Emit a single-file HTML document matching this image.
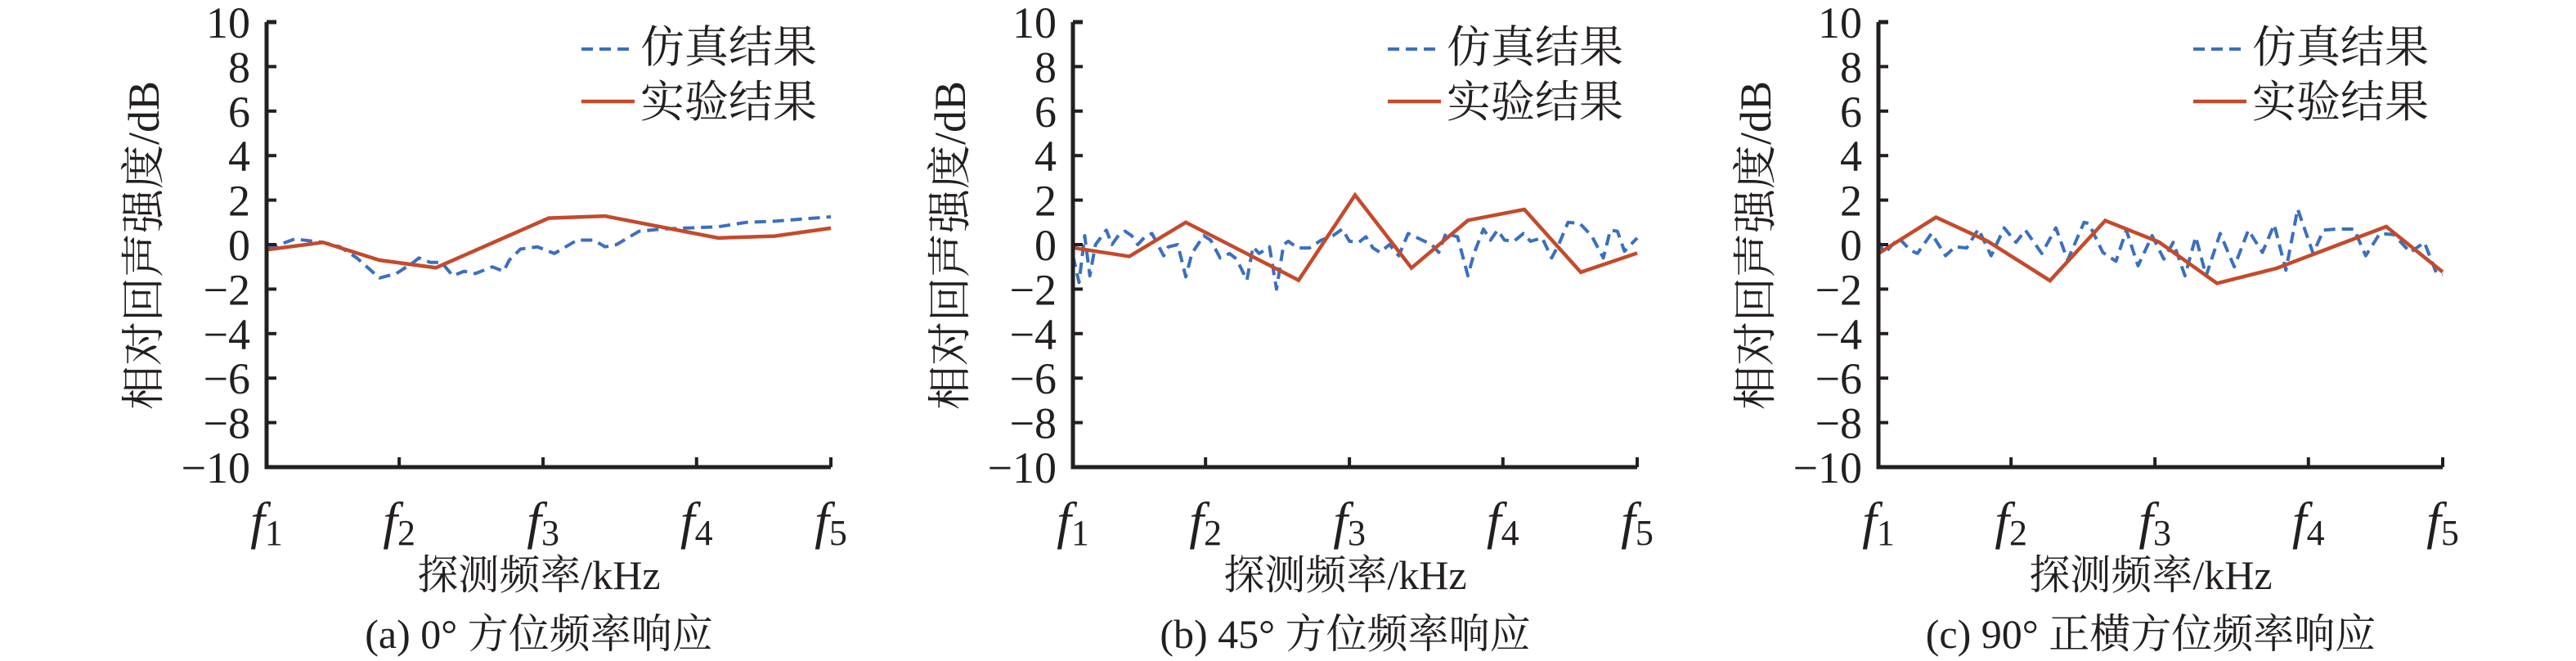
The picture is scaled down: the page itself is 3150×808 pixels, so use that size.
<!DOCTYPE html>
<html><head><meta charset="utf-8">
<style>
html,body{margin:0;padding:0;background:#fff;}
svg{display:block;font-family:"Liberation Serif","Noto Serif CJK SC",serif;}
</style></head>
<body>
<svg id="fig" width="3150" height="808" viewBox="0 0 3150 808" xmlns="http://www.w3.org/2000/svg"></svg>
<script>
// ---- data (x as fraction of f1..f5 range, y in dB) ----
const yTicks = [10, 8, 6, 4, 2, 0, -2, -4, -6, -8, -10];
const xTickLabels = ["1", "2", "3", "4", "5"];
const xTickPos = [0, 0.235, 0.49, 0.762, 1];

const simAx = [0,0.05,0.1,0.13,0.16,0.2,0.23,0.26,0.27,0.29,0.31,0.33,0.35,0.37,0.4,0.42,0.43,0.45,0.48,0.51,0.55,0.58,0.6,0.62,0.66,0.7,0.75,0.8,0.85,0.9,0.95,1];
const simAy = [-0.2,0.25,0.1,-0.1,-0.6,-1.5,-1.3,-0.8,-0.6,-0.8,-0.8,-1.4,-1.2,-1.3,-1.0,-1.2,-0.7,-0.2,-0.1,-0.4,0.2,0.2,-0.1,0.0,0.6,0.7,0.75,0.8,1.0,1.05,1.15,1.25];
const expAx = [0,0.1,0.2,0.3,0.5,0.6,0.8,0.9,1];
const expAy = [-0.23,0.1,-0.7,-1.04,1.19,1.28,0.3,0.38,0.74];

const simBpx = [372,385,397,408,420,443,455,470,483,497,510,525,540,565,575,595,612,625,650,665,685,705,720,742,755,768,790,805,820,830,850,875,900,925,945,960,980,995,1010,1025,1045,1065,1085,1100,1120,1135,1150,1165,1190,1212,1225,1245,1260,1275,1290,1310,1330,1345,1370,1390,1405,1425,1450,1475,1500,1515,1530,1545,1572];
const simBy = [-0.5,-1.7,0.4,-1.4,0,0.65,0,0.45,0.6,0.4,0,0.35,0.5,-0.5,-0.1,0,-1.45,-0.4,0.4,0.2,-0.6,-0.4,-0.65,-1.6,-0.1,-0.4,-0.1,-2.0,0,0.15,-0.15,-0.15,0.2,0.4,0.7,0.15,0.1,0.35,-0.15,-0.35,0,-0.5,0.5,0.35,0.15,0,-0.35,0.5,0.35,-1.4,-0.4,0.7,0.2,0.65,0.2,0.15,0.5,0.15,0.3,-0.6,0,1.0,0.95,0.4,-0.6,0.65,0.6,-0.3,0.3];
const expBx = [0,0.1,0.2,0.4,0.5,0.6,0.7,0.8,0.9,1];
const expBy = [-0.14,-0.53,1.0,-1.6,2.23,-1.05,1.09,1.58,-1.24,-0.38];

const simCpx = [342,355,385,410,425,455,485,505,530,555,582,610,635,655,690,720,745,780,790,820,848,870,895,925,950,970,995,1018,1040,1070,1100,1130,1160,1185,1210,1235,1268,1290,1320,1355,1380,1410,1440,1475,1505,1530,1544];
const simCy = [0.15,-0.4,0.3,-0.25,-0.4,0.5,-0.5,-0.1,-0.15,0.7,-0.5,0.75,0.1,0.65,-0.4,0.75,-0.7,1.0,0.95,-0.35,-0.75,0.65,-0.95,0.4,-0.65,0.1,-1.4,0.35,-1.4,0.5,-1.0,0.65,-0.35,0.9,-1.15,1.6,-0.4,0.65,0.7,0.7,-0.5,0.5,0.45,-0.35,0.1,-1.25,-1.35];
const expCx = [0,0.102,0.193,0.304,0.402,0.497,0.6,0.705,0.9,1];
const expCy = [-0.4,1.23,0.16,-1.62,1.08,0.12,-1.74,-1.07,0.81,-1.23];

const captions = ["(a) 0° 方位频率响应", "(b) 45° 方位频率响应", "(c) 90° 正横方位频率响应"];

// ---- layout ----
const NS = "http://www.w3.org/2000/svg";
const svg = document.getElementById("fig");
const panelX = [326, 1312, 2297];
const PW = 690, TOP = 27, BOT = 571;
function mk(tag, attrs, parent){const e=document.createElementNS(NS,tag);for(const k in attrs)e.setAttribute(k,attrs[k]);(parent||svg).appendChild(e);return e;}
function yS(v){return BOT - (v + 10) / 20 * (BOT - TOP);}

const panels = [
  {sx: simAx, sy: simAy, ex: expAx, ey: expAy},
  {sx: simBpx.map(p => (p - 372) / 1200), sy: simBy, ex: expBx, ey: expBy},
  {sx: simCpx.map(p => (p - 342) / 1202), sy: simCy, ex: expCx, ey: expCy}
];
const letters = ["a","b","c"];

panels.forEach((pd, i) => {
  const x0 = panelX[i];
  const xS = f => x0 + f * PW;
  const g = mk("g", {});
  
  

  const sim = mk("polyline", {points: pd.sx.map((f, k) => xS(Math.min(1, f)) + "," + yS(pd.sy[k])).join(" "), fill: "none", stroke: "#3b6fbf", "stroke-width": 4, "stroke-dasharray": "14 8", "stroke-linejoin": "round"}, g);
  
  
  const exp = mk("polyline", {points: pd.ex.map((f, k) => xS(f) + "," + yS(pd.ey[k])).join(" "), fill: "none", stroke: "#c44a2c", "stroke-width": 4.5, "stroke-linejoin": "miter"}, g);
  
  

  const ax = mk("path", {d: `M${x0} ${TOP} H${x0 + 12} M${x0} ${TOP} V${BOT} H${x0 + PW}`, fill: "none", stroke: "#231f20", "stroke-width": 5}, g);
  
  

  yTicks.forEach(v => {
    const y = yS(v);
    if (v !== 10 && v !== -10) {
      const t = mk("line", {x1: x0, x2: x0 + 12, y1: y, y2: y, stroke: "#231f20", "stroke-width": 4}, g);
      
      
    }
    const lb = mk("text", {x: x0 - 20, y: y + 19, "text-anchor": "end", "font-size": 54, fill: "#231f20"}, g);
    lb.textContent = v < 0 ? "\u2212" + (-v) : String(v);
    
    
  });

  xTickPos.forEach((f, k) => {
    const x = xS(f);
    if (k > 0) {
      const t = mk("line", {x1: x, x2: x, y1: BOT, y2: BOT - 12, stroke: "#231f20", "stroke-width": 4}, g);
      
      
    }
    const lb = mk("text", {x: x, y: 658, "text-anchor": "middle", "font-size": 64, fill: "#231f20"}, g);
    
    
    const t1 = mk("tspan", {"font-style": "italic"}, lb); t1.textContent = "f";
    const t2 = mk("tspan", {"font-size": 44, dy: 8}, lb); t2.textContent = xTickLabels[k];
  });

  const yt = mk("text", {x: 0, y: 0, transform: `translate(${x0 - 132},${300}) rotate(-90)`, "text-anchor": "middle", "font-size": 54, fill: "#231f20"}, g);
  yt.textContent = "相对回声强度/dB";
  
  

  const xt = mk("text", {x: x0 + PW / 2 - 12, y: 720, "text-anchor": "middle", "font-size": 50, fill: "#231f20"}, g);
  xt.textContent = "探测频率/kHz";
  
  

  const cp = mk("text", {x: x0 + PW / 2 - 12, y: 792, "text-anchor": "middle", "font-size": 50, fill: "#231f20"}, g);
  cp.textContent = captions[i];
  
  

  const lg = mk("g", {}, g);
  
  
  const l1 = mk("line", {x1: x0 + 385, x2: x0 + 450, y1: 60, y2: 60, stroke: "#3b6fbf", "stroke-width": 4, "stroke-dasharray": "14 8"}, lg);
  
  
  const t1 = mk("text", {x: x0 + 457, y: 76, "font-size": 54, fill: "#231f20"}, lg);
  t1.textContent = "仿真结果";
  
  
  const l2 = mk("line", {x1: x0 + 385, x2: x0 + 450, y1: 124, y2: 124, stroke: "#c44a2c", "stroke-width": 4.5}, lg);
  
  
  const t2 = mk("text", {x: x0 + 457, y: 143, "font-size": 54, fill: "#231f20"}, lg);
  t2.textContent = "实验结果";
  
  
});
</script>
</body></html>
